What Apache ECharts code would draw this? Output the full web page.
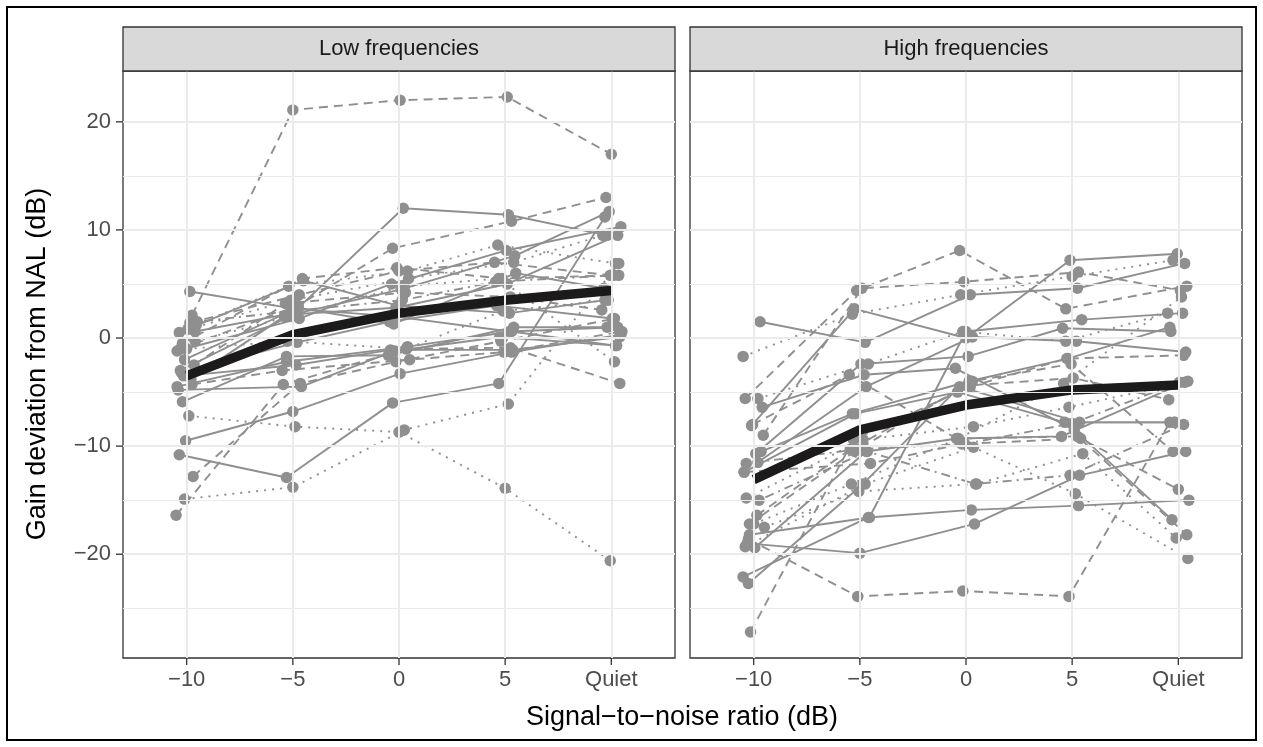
<!DOCTYPE html>
<html>
<head>
<meta charset="utf-8">
<script src="https://cdn.jsdelivr.net/npm/echarts@6/dist/echarts.min.js"></script>
<style>
  html, body { margin: 0; padding: 0; background: #fff; }
  #chart { width: 1263px; height: 747px; }
</style>
</head>
<body>
<div id="chart"></div>
<script>
// x categories (signal-to-noise conditions), shown as ggplot labels
const conditions = ['\u221210', '\u22125', '0', '5', 'Quiet']
const panelTitles = ['Low frequencies', 'High frequencies']
const yTicks = [-20, -10, 0, 10, 20]
const yMinorTicks = [-25, -15, -5, 5, 15]

// individual listeners, low frequencies: gain deviation at -10, -5, 0, 5, Quiet
const lowValues = [
  [2.1, 21.1, 22.0, 22.3, 17.0],
  [4.3, 2.7, 2.0, 0.6, 1.0],
  [0.6, 2.3, 12.0, 11.4, 9.5],
  [-1.0, 3.0, 8.3, 10.8, 13.0],
  [-10.8, -12.9, -6.0, -4.2, 11.2],
  [-9.5, -6.8, -3.3, -1.3, 0.3],
  [-7.2, -8.2, -8.7, -13.9, -20.6],
  [-14.9, -13.8, -8.5, -6.1, 6.9],
  [-16.4, -4.3, -1.0, -0.9, -4.2],
  [-12.8, -4.2, -2.2, -0.3, 1.8],
  [-3.8, 2.0, 4.5, 7.6, 11.7],
  [-1.2, 1.8, 5.0, 8.1, 10.3],
  [1.2, 4.8, 6.2, 8.6, 6.9],
  [-0.5, 5.5, 6.5, 5.5, 5.8],
  [0.8, 3.5, 5.5, 7.0, 9.5],
  [-3.2, -0.4, 1.5, 3.0, 1.8],
  [-2.5, 3.2, 4.2, 3.8, 2.6],
  [-4.8, -4.5, -1.2, 0.1, -0.7],
  [-1.0, -0.3, -1.0, 2.5, 3.5],
  [-3.5, -2.5, -1.1, -1.1, 0.1],
  [1.5, 2.5, 3.5, 5.2, 5.8],
  [0.5, 5.3, 3.0, 2.3, 3.5],
  [-4.3, -3.0, -2.0, -1.3, 0.6],
  [-2.0, 2.8, 1.3, 6.0, 4.6],
  [-0.3, 2.0, 4.8, 5.5, -2.2],
  [-3.0, 2.2, 2.8, 5.0, 9.5],
  [1.4, 4.0, 6.2, 7.0, 5.8],
  [-4.5, -2.2, -0.8, 0.6, -0.7],
  [-5.9, -1.7, -1.6, 1.0, 1.0]
]
const lowTypes = ['dashed', 'solid', 'solid', 'dashed', 'solid', 'solid', 'dotted', 'dotted', 'dashed', 'dashed',
  'solid', 'solid', 'dotted', 'dashed', 'dotted', 'solid', 'dashed', 'solid', 'dotted', 'solid',
  'dotdash', 'solid', 'dashed', 'solid', 'dotted', 'solid', 'dashed', 'solid', 'solid']
// horizontal jitter of each point, in category units
const lowJitter = [
  [0.05, 0.0, 0.01, 0.02, 0.0],
  [0.03, 0.02, -0.05, 0.04, 0.06],
  [0.08, 0.0, 0.04, 0.03, -0.04],
  [-0.06, 0.05, -0.06, 0.06, -0.05],
  [-0.07, -0.06, -0.06, -0.06, -0.06],
  [-0.01, 0.0, 0.01, 0.06, 0.09],
  [0.02, 0.02, 0.0, 0.0, -0.01],
  [-0.02, 0.0, 0.05, 0.03, 0.07],
  [-0.1, -0.09, 0.07, 0.05, 0.08],
  [0.06, 0.07, -0.03, -0.04, 0.03],
  [0.04, -0.08, 0.02, 0.09, -0.02],
  [-0.09, 0.06, -0.07, 0.01, 0.09],
  [0.09, -0.04, 0.08, -0.07, 0.04],
  [-0.04, 0.09, -0.02, -0.03, 0.07],
  [0.01, -0.02, 0.09, 0.08, -0.08],
  [-0.05, 0.04, -0.09, -0.08, 0.01],
  [0.07, -0.07, 0.06, 0.05, -0.09],
  [-0.08, 0.08, -0.04, -0.05, 0.05],
  [0.0, -0.05, 0.07, -0.02, -0.03],
  [-0.03, 0.03, -0.08, 0.07, 0.08],
  [0.1, -0.01, 0.03, -0.09, 0.02],
  [-0.07, 0.1, -0.01, 0.04, -0.06],
  [0.05, -0.1, 0.1, -0.01, 0.1],
  [-0.02, 0.05, -0.05, 0.1, -0.07],
  [0.08, -0.03, 0.05, -0.06, 0.03],
  [-0.06, 0.01, -0.03, 0.02, 0.06],
  [0.03, 0.06, 0.0, -0.1, -0.01],
  [-0.09, -0.06, 0.08, 0.06, 0.04],
  [-0.04, -0.06, -0.1, 0.08, -0.04]
]
const lowMean = [-3.5, 0.3, 2.3, 3.5, 4.4]

// individual listeners, high frequencies
const highValues = [
  [-18.6, -23.9, -23.4, -23.9, -7.8],
  [-27.2, -9.4, -4.5, -1.9, -1.6],
  [-22.1, -16.6, -15.9, -15.5, -15.0],
  [-19.0, -19.9, -17.2, -12.7, -10.5],
  [-18.2, -16.6, 0.6, 1.7, 2.3],
  [-8.1, 2.7, 0.0, 7.2, 7.8],
  [1.5, -0.4, 4.0, 4.6, 6.9],
  [-1.7, 2.2, 4.0, 5.7, 7.2],
  [-5.6, 4.4, 8.1, 2.7, 4.8],
  [-9.0, 4.6, 5.2, 6.1, 4.4],
  [-10.5, -7.0, -4.0, -1.9, 1.0],
  [-12.4, -7.0, -5.0, -7.8, -7.8],
  [-11.5, -4.5, 0.1, -0.3, -1.3],
  [-6.4, -3.4, -2.8, -8.5, -16.8],
  [-14.8, -9.4, -8.2, -6.4, -4.0],
  [-16.4, -10.3, -4.4, -3.7, -5.7],
  [-17.2, -13.5, -9.3, -4.2, 3.8],
  [-15.0, -10.5, -13.5, -12.7, -8.0],
  [-12.4, -11.6, -9.8, -9.3, -14.0],
  [-17.5, -14.2, -13.5, -10.7, -18.5],
  [-10.7, -2.4, -1.7, 0.9, 0.6],
  [-8.0, -3.4, -9.3, -9.1, -18.2],
  [-19.3, -13.5, -10.1, -14.4, -20.4],
  [-11.6, -10.3, -9.8, -7.9, -4.1],
  [-22.7, -13.5, -4.5, -7.8, -7.8],
  [-5.6, -2.4, 0.6, -0.3, 2.3],
  [-17.2, -10.5, -4.0, -2.4, -10.5],
  [-19.4, -10.5, -9.3, -9.1, -4.1]
]
const highTypes = ['dashed', 'dashed', 'solid', 'solid', 'solid', 'solid', 'solid', 'dotted', 'dashed', 'dashed',
  'solid', 'solid', 'solid', 'solid', 'dotted', 'dashed', 'dotted', 'dotdash', 'dashed', 'dotted',
  'solid', 'dashed', 'dotted', 'dotdash', 'solid', 'dotted', 'dashed', 'solid']
const highJitter = [
  [-0.05, -0.02, -0.03, -0.03, -0.08],
  [-0.03, -0.06, 0.04, -0.05, 0.05],
  [-0.1, 0.08, 0.05, 0.06, 0.1],
  [-0.06, 0.0, 0.08, 0.07, 0.07],
  [-0.04, 0.09, 0.0, 0.09, 0.04],
  [-0.02, -0.05, 0.0, -0.02, -0.01],
  [0.06, 0.05, 0.04, 0.05, 0.06],
  [-0.1, -0.07, -0.05, 0.0, -0.05],
  [-0.08, -0.03, -0.06, -0.06, 0.08],
  [0.09, 0.02, -0.02, 0.06, 0.02],
  [0.07, -0.07, 0.03, -0.04, -0.08],
  [-0.09, -0.04, -0.08, -0.07, -0.04],
  [0.04, 0.06, 0.06, 0.04, 0.07],
  [0.08, 0.04, -0.1, 0.02, -0.06],
  [-0.07, 0.03, 0.07, -0.03, 0.09],
  [0.03, -0.09, 0.01, 0.01, -0.09],
  [0.0, -0.08, -0.07, -0.08, 0.03],
  [0.05, 0.07, 0.09, -0.02, 0.05],
  [-0.09, 0.1, -0.04, 0.08, 0.0],
  [0.1, -0.01, 0.1, 0.1, -0.02],
  [0.02, 0.01, 0.02, -0.09, -0.07],
  [-0.01, -0.1, -0.09, 0.05, 0.08],
  [-0.08, 0.05, 0.07, 0.03, 0.09],
  [-0.07, -0.02, -0.01, 0.0, 0.01],
  [-0.05, 0.03, -0.06, 0.07, -0.03],
  [0.04, 0.08, -0.03, -0.06, -0.1],
  [-0.04, -0.05, 0.06, -0.01, -0.05],
  [0.01, 0.06, -0.08, -0.1, 0.06]
]
const highMean = [-13.1, -8.5, -6.2, -4.8, -4.35]

const FONT = '"Liberation Sans", Arial, Helvetica, sans-serif'
const GRAY = '#8f8f8f'
const GRID_COLOR = '#ebebeb'
const EDGE = '#333333'
const dashes = {
  solid: 'solid',
  dashed: [9, 6],
  dotted: [2, 6],
  dotdash: [2, 5, 9, 5],
}
const panels = [
  { left: 123, values: lowValues, types: lowTypes, jitter: lowJitter, mean: lowMean },
  { left: 690, values: highValues, types: highTypes, jitter: highJitter, mean: highMean },
]
const PANEL_TOP = 71
const PANEL_W = 552
const PANEL_H = 587
const X_MIN = -0.6
const X_MAX = 4.6
const Y_MIN = -29.6
const Y_MAX = 24.7
const TICK_LEN = 7
const catIdx = [0, 1, 2, 3, 4]

const grids = []
const xAxes = []
const yAxes = []
const series = []
const graphics = []

panels.forEach((p, i) => {
  grids.push({
    left: p.left, top: PANEL_TOP, width: PANEL_W, height: PANEL_H,
    show: true, backgroundColor: '#fff', borderColor: EDGE, borderWidth: 1.3,
  })
  xAxes.push({
    gridIndex: i, type: 'value', min: X_MIN, max: X_MAX,
    splitLine: { show: false },
    axisLine: { show: false },
    axisTick: { show: false },
    axisLabel: {
      customValues: catIdx,
      formatter: (v) => conditions[Math.round(v)],
      color: '#4d4d4d', fontSize: 22, fontFamily: FONT, margin: 11,
    },
  })
  yAxes.push({
    gridIndex: i, type: 'value', min: Y_MIN, max: Y_MAX,
    splitLine: { show: false },
    axisLine: { show: false },
    axisTick: { show: false },
    axisLabel: {
      show: i === 0,
      customValues: yTicks,
      formatter: (v) => String(v).replace('-', '\u2212'),
      color: '#4d4d4d', fontSize: 22, fontFamily: FONT, margin: 12,
    },
  })

  // panel grid lines (drawn as mark lines so they sit exactly on the ggplot breaks)
  const gridLines = []
  yMinorTicks.forEach((v) => gridLines.push({ yAxis: v, lineStyle: { color: GRID_COLOR, width: 1, type: 'solid' } }))
  yTicks.forEach((v) => gridLines.push({ yAxis: v, lineStyle: { color: GRID_COLOR, width: 2, type: 'solid' } }))
  catIdx.forEach((v) => gridLines.push({ xAxis: v, lineStyle: { color: GRID_COLOR, width: 2, type: 'solid' } }))
  series.push({
    type: 'line', xAxisIndex: i, yAxisIndex: i, data: [], z: 1, silent: true,
    markLine: { silent: true, symbol: 'none', label: { show: false }, animation: false, data: gridLines },
  })

  p.values.forEach((row, r) => {
    series.push({
      type: 'line', xAxisIndex: i, yAxisIndex: i, z: 2, silent: true,
      data: row.map((v, k) => [k + p.jitter[r][k], v]),
      symbol: 'circle', symbolSize: 11.5, showSymbol: true,
      itemStyle: { color: GRAY },
      lineStyle: { color: GRAY, width: 1.9, type: dashes[p.types[r]] },
    })
  })

  series.push({
    type: 'line', xAxisIndex: i, yAxisIndex: i, z: 3, silent: true,
    data: p.mean.map((v, k) => [k, v]),
    symbol: 'none',
    lineStyle: { color: '#1c1a1b', width: 9.5, join: 'round' },
  })

  // facet strip
  graphics.push({
    type: 'rect', z: 10,
    shape: { x: p.left, y: 27, width: PANEL_W, height: PANEL_TOP - 27 },
    style: { fill: '#d9d9d9', stroke: EDGE, lineWidth: 1.3 },
  })
  graphics.push({
    type: 'text', z: 11, x: p.left + PANEL_W / 2, y: 49,
    style: {
      text: panelTitles[i], fill: '#1a1a1a', font: '22px ' + FONT,
      textAlign: 'center', textVerticalAlign: 'middle', verticalAlign: 'middle',
    },
  })
})

graphics.push({
  type: 'text', z: 11, x: 682, y: 718,
  style: {
    text: 'Signal\u2212to\u2212noise ratio (dB)', fill: '#000', font: '27px ' + FONT,
    textAlign: 'center', textVerticalAlign: 'middle', verticalAlign: 'middle',
  },
})
graphics.push({
  type: 'text', z: 11, x: 38, y: 364, rotation: Math.PI / 2,
  style: {
    text: 'Gain deviation from NAL (dB)', fill: '#000', font: '27px ' + FONT,
    textAlign: 'center', textVerticalAlign: 'middle', verticalAlign: 'middle',
  },
})
// outer frame of the figure
graphics.push({
  type: 'rect', z: 20,
  shape: { x: 7, y: 7, width: 1249, height: 733 },
  style: { fill: 'transparent', stroke: '#000', lineWidth: 2 },
})

const chart = echarts.init(document.getElementById('chart'), null, { renderer: 'canvas' })
chart.setOption({
  animation: false,
  backgroundColor: '#fff',
  grid: grids,
  xAxis: xAxes,
  yAxis: yAxes,
  series,
})

// outward axis ticks, placed through the axes' own scales
const tickStyle = { stroke: EDGE, lineWidth: 1.3 }
panels.forEach((p, i) => {
  catIdx.forEach((k) => {
    const [px, py] = chart.convertToPixel({ gridIndex: i }, [k, Y_MIN])
    graphics.push({ type: 'line', z: 12, shape: { x1: px, y1: py, x2: px, y2: py + TICK_LEN }, style: tickStyle })
  })
})
yTicks.forEach((v) => {
  const [px, py] = chart.convertToPixel({ gridIndex: 0 }, [X_MIN, v])
  graphics.push({ type: 'line', z: 12, shape: { x1: px - TICK_LEN, y1: py, x2: px, y2: py }, style: tickStyle })
})
chart.setOption({ graphic: graphics })
</script>
</body>
</html>
